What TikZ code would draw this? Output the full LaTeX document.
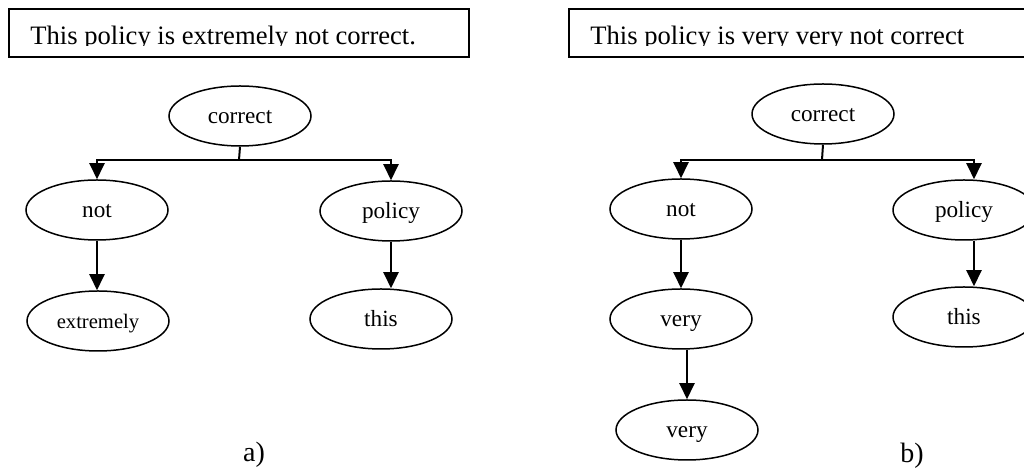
\documentclass[tikz,border=0pt]{standalone}
\usepackage{fontspec}
\setmainfont{Liberation Serif}
\usetikzlibrary{shapes.geometric,arrows.meta}

\begin{document}
\begin{tikzpicture}[x=0.5pt,y=-0.5pt,
   mot/.style={draw,ellipse,line width=0.75pt,minimum width=71pt,minimum height=30pt,inner sep=0pt,
      text height=0.95em,text depth=0.2em,font=\fontsize{11.6}{13}\selectfont},
   fleche/.style={line width=1pt,-{Triangle[length=8pt,width=7.5pt]}},
   cadre/.style={draw,line width=0.6pt},
   phrase/.style={anchor=base west,inner sep=0pt,font=\fontsize{13.3}{16}\selectfont}]
   \useasboundingbox (0,0) rectangle (1024,469);

   % a) premier arbre
   \draw[cadre] (9,9) rectangle (469,57);
   \begin{scope}
      \clip (9,9) rectangle (469,46);
      \node[phrase] (phraseA) at (30,45) {This policy is extremely not correct.};
   \end{scope}
   \node[mot] (correctA) at (240,116) {correct};
   \node[mot] (notA) at (97,210) {not};
   \node[mot] (policyA) at (391,211) {policy};
   \node[mot,font=\fontsize{10.3}{12}\selectfont] (extremelyA) at (98,321) {extremely};
   \node[mot] (thisA) at (381,319) {this};
   \coordinate (forkA) at (239,160);
   \draw[line width=1pt] (correctA.south) -- (forkA);
   \draw[fleche] (forkA) -| (notA.north);
   \draw[fleche] (forkA) -| (policyA.north);
   \draw[fleche] (notA.south) -- (notA.south |- extremelyA.north);
   \draw[fleche] (policyA.south) -- (policyA.south |- thisA.north);
   \node[anchor=base,font=\fontsize{14}{16}\selectfont] (labelA) at (254,462) {a)};

   % b) second arbre
   \draw[cadre] (569,9) rectangle (1030,57);
   \begin{scope}
      \clip (569,9) rectangle (1024,46);
      \node[phrase] (phraseB) at (590,45) {This policy is very very not correct};
   \end{scope}
   \node[mot] (correctB) at (823,114) {correct};
   \node[mot] (notB) at (681,209) {not};
   \node[mot] (policyB) at (964,210) {policy};
   \node[mot] (veryB) at (681,319) {very};
   \node[mot] (thisB) at (964,317) {this};
   \node[mot] (veryveryB) at (687,430) {very};
   \coordinate (forkB) at (822,160);
   \draw[line width=1pt] (correctB.south) -- (forkB);
   \draw[fleche] (forkB) -| (notB.north);
   \draw[fleche] (forkB) -| ([xshift=5pt]policyB.north);
   \draw[fleche] (notB.south) -- (veryB.north);
   \draw[fleche] ([xshift=5pt]policyB.south) -- ([xshift=5pt]thisB.north);
   \draw[fleche] (veryveryB.north |- veryB.south) -- (veryveryB.north);
   \node[anchor=base,font=\fontsize{14}{16}\selectfont] (labelB) at (912,463) {b)};
\end{tikzpicture}
\end{document}
